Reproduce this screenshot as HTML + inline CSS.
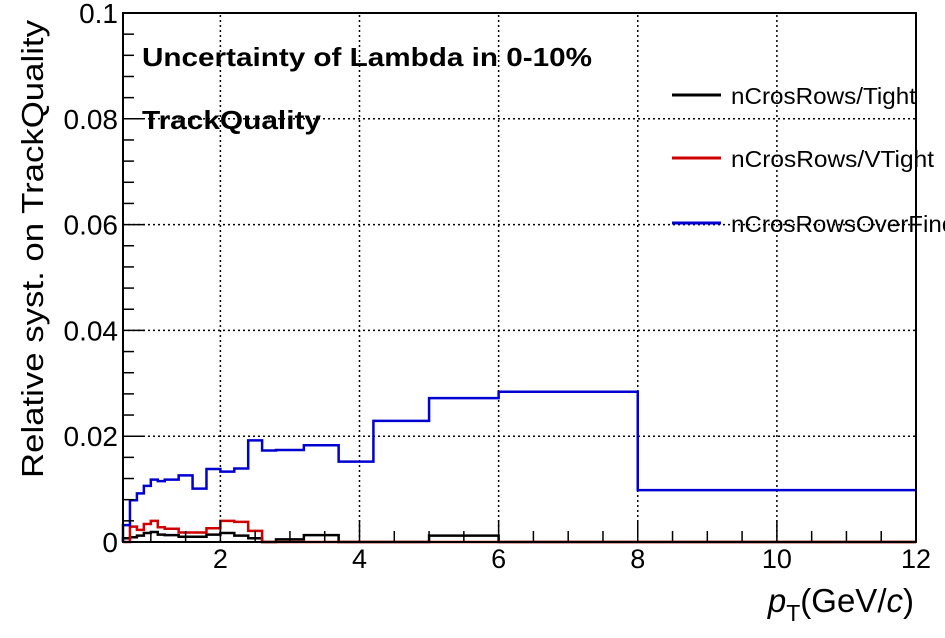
<!DOCTYPE html>
<html><head><meta charset="utf-8"><style>
body{margin:0;background:#fff}
svg{display:block;font-family:"Liberation Sans",sans-serif}
</style></head><body>
<svg id="c" width="945" height="638">
<g id="grid"></g>
<g id="series"></g>
<text x="142" y="66" font-size="26" font-weight="bold" textLength="450" lengthAdjust="spacingAndGlyphs">Uncertainty of Lambda in 0-10%</text>
<text x="142" y="129" font-size="26" font-weight="bold" textLength="179" lengthAdjust="spacingAndGlyphs">TrackQuality</text>
<g>
<line x1="672" y1="95" x2="721" y2="95" stroke="#000" stroke-width="3"/>
<text x="731" y="104" font-size="23" textLength="185" lengthAdjust="spacingAndGlyphs">nCrosRows/Tight</text>
<line x1="672" y1="158" x2="721" y2="158" stroke="#d00000" stroke-width="3"/>
<text x="731" y="167" font-size="23" textLength="203" lengthAdjust="spacingAndGlyphs">nCrosRows/VTight</text>
<line x1="672" y1="223" x2="721" y2="223" stroke="#0000d0" stroke-width="3"/>
<text x="731" y="232" font-size="23" textLength="270" lengthAdjust="spacingAndGlyphs">nCrosRowsOverFindable</text>
</g>
<g id="axes"></g>
<text transform="translate(43,249) rotate(-90)" text-anchor="middle" font-size="31" textLength="458" lengthAdjust="spacingAndGlyphs">Relative syst. on TrackQuality</text>
<text x="914" y="612" text-anchor="end" font-size="33"><tspan font-style="italic">p</tspan><tspan font-size="23" dy="9">T</tspan><tspan dy="-9">(GeV/</tspan><tspan font-style="italic">c</tspan>)</text>
</svg>
<script>
const edges=[0.6,0.7,0.8,0.9,1.0,1.1,1.2,1.4,1.6,1.8,2.0,2.2,2.4,2.6,2.8,3.2,3.7,4.2,5.0,6.0,8.0,12];
const tight=[0.0007,0.0009,0.0012,0.0017,0.0019,0.0014,0.0013,0.001,0.001,0.0014,0.0017,0.0012,0.0007,0,0.0005,0.0013,0,0,0.0012,0,0];
const vtight=[0,0.0029,0.0023,0.0034,0.0040,0.0028,0.0025,0.0018,0.0018,0.0026,0.0040,0.0038,0.0021,0,0,0,0,0,0,0,0];
const overfind=[0.0032,0.0079,0.0092,0.0106,0.0118,0.0115,0.0118,0.0126,0.0101,0.0138,0.0133,0.0139,0.0192,0.0173,0.0174,0.0183,0.0152,0.0229,0.0272,0.0284,0.0098];
const xTicks=[2,4,6,8,10,12];
const yTicks=[0,0.02,0.04,0.06,0.08,0.1];
const yLabels=["0","0.02","0.04","0.06","0.08","0.1"];
const X0=123,X1=916,Y0=542,Y1=13,xmin=0.6,xmax=12,ymin=0,ymax=0.1;
const sx=v=>X0+(v-xmin)/(xmax-xmin)*(X1-X0);
const sy=v=>Y0-(v-ymin)/(ymax-ymin)*(Y0-Y1);
const NS="http://www.w3.org/2000/svg";
function mk(t,a,p){const e=document.createElementNS(NS,t);for(const k in a)e.setAttribute(k,a[k]);p.appendChild(e);return e;}
const G=document.getElementById('grid'),S=document.getElementById('series'),A=document.getElementById('axes');
xTicks.forEach(v=>{if(v<xmax){const l=mk('line',{x1:sx(v),x2:sx(v),y1:Y0,y2:Y1,stroke:'#000','stroke-width':1.5,'stroke-dasharray':'2,3'},G);

}});
yTicks.forEach(v=>{if(v>ymin&&v<ymax){const l=mk('line',{x1:X0,x2:X1,y1:sy(v),y2:sy(v),stroke:'#000','stroke-width':1.5,'stroke-dasharray':'2,3'},G);

}});
function hist(vals,col,name){let d='M'+sx(edges[0])+','+sy(0);
for(let i=0;i<vals.length;i++){d+=' L'+sx(edges[i])+','+sy(vals[i])+' L'+sx(edges[i+1])+','+sy(vals[i]);}
const p=mk('path',{d:d,fill:'none',stroke:col,'stroke-width':2.5},S);

}
hist(tight,'#000','series-tight');
hist(vtight,'#d00000','series-vtight');
hist(overfind,'#0000d0','series-overfind');
const fr=mk('rect',{x:X0,y:Y1,width:X1-X0,height:Y0-Y1,fill:'none',stroke:'#000','stroke-width':2},A);


for(let v=1;v<=12;v+=0.5){const maj=xTicks.includes(v);
const t=mk('line',{x1:sx(v),x2:sx(v),y1:Y0,y2:Y0-(maj?22:11),stroke:'#000','stroke-width':1.5},A);

}
for(let k=0;k<=25;k++){const v=k*0.004;const maj=k%5==0;
const t=mk('line',{x1:X0,x2:X0+(maj?22:11),y1:sy(v),y2:sy(v),stroke:'#000','stroke-width':1.5},A);

}
xTicks.forEach(v=>{const t=mk('text',{x:sx(v),y:568,'text-anchor':'middle','font-size':27},A);t.textContent=String(v);

});
yTicks.forEach((v,i)=>{const t=mk('text',{x:118,y:sy(v)+10,'text-anchor':'end','font-size':28},A);t.textContent=yLabels[i];

});
</script>
</body></html>
